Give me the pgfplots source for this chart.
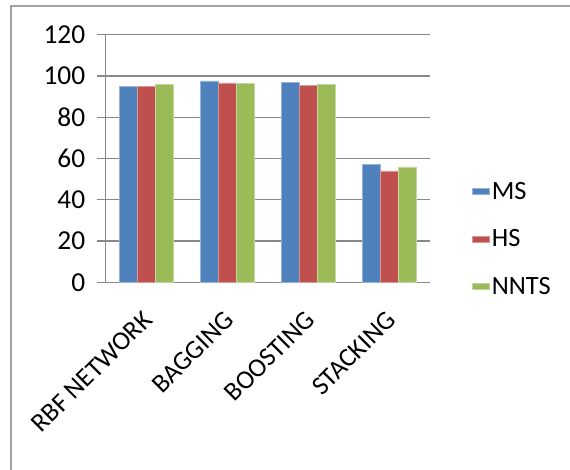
\documentclass[border=0pt]{standalone}
\usepackage{pgfplots}
\pgfplotsset{compat=1.18}
\usepackage{fontspec}
\setmainfont{Carlito}

\definecolor{msblue}{HTML}{4F81BD}
\definecolor{hsred}{HTML}{C0504D}
\definecolor{nntsgreen}{HTML}{9BBB59}
\definecolor{gridgray}{HTML}{888888}
\definecolor{framegray}{HTML}{A0A0A0}

\begin{document}
\begin{tikzpicture}
\begin{axis}[
  at={(0bp,0bp)}, anchor=south west,
  scale only axis, width=324.3bp, height=247.6bp,
  ybar=0pt, bar width=18bp,
  xmin=-0.5, xmax=3.5, ymin=0, ymax=120,
  ytick={0,20,...,120},
  xtick={0,1,2,3},
  xticklabels={RBF NETWORK,BAGGING,BOOSTING,STACKING},
  minor xtick={-0.5,0.5,1.5,2.5,3.5},
  xtick style={draw=none},
  tick align=outside,
  major tick length=9bp, minor tick length=9bp,
  axis x line*=bottom, axis y line*=left,
  axis line style={gridgray, line width=1.2bp},
  every tick/.style={gridgray, line width=1.2bp},
  minor x tick style={gridgray, line width=1.2bp},
  ymajorgrids, grid style={gridgray, line width=1.2bp},
  /pgf/number format/assume math mode=true,
  tick label style={font=\fontsize{27.5}{32}\selectfont},
  yticklabel style={anchor=east, xshift=-8bp},
  xticklabel style={xshift=4bp, yshift=-22bp, rotate=45, anchor=east, font=\fontsize{26.5}{30}\selectfont},
  legend style={draw=none, fill=none, at={(1.13,0.175)}, anchor=west,
    font=\fontsize{26.5}{30}\selectfont, row sep=25bp,
    inner sep=0pt},
  legend cell align=left,
  legend image code/.code={\fill[#1] (0bp,-7.5bp) rectangle (15bp,7.5bp);},
  area legend,
]
\addplot[fill=msblue, draw=msblue!60!white, line width=0.5bp] coordinates {(0,94.8) (1,97.6) (2,96.9) (3,57.1)};
\addplot[fill=hsred, draw=hsred!60!white, line width=0.5bp] coordinates {(0,94.8) (1,96.6) (2,95.6) (3,54.0)};
\addplot[fill=nntsgreen, draw=nntsgreen!60!white, line width=0.5bp] coordinates {(0,95.8) (1,96.3) (2,96.1) (3,56.0)};
\legend{MS,HS,NNTS}
\end{axis}
% outer chart frame (only its left and top edges fall on the page)
\draw[framegray, line width=2bp] (-94.7bp,-200bp) -- (-94.7bp,276.6bp) -- (480bp,276.6bp);
\pgfresetboundingbox
\useasboundingbox (-105.7bp,-187.7bp) rectangle (464.3bp,282.3bp);
\end{tikzpicture}
\end{document}
